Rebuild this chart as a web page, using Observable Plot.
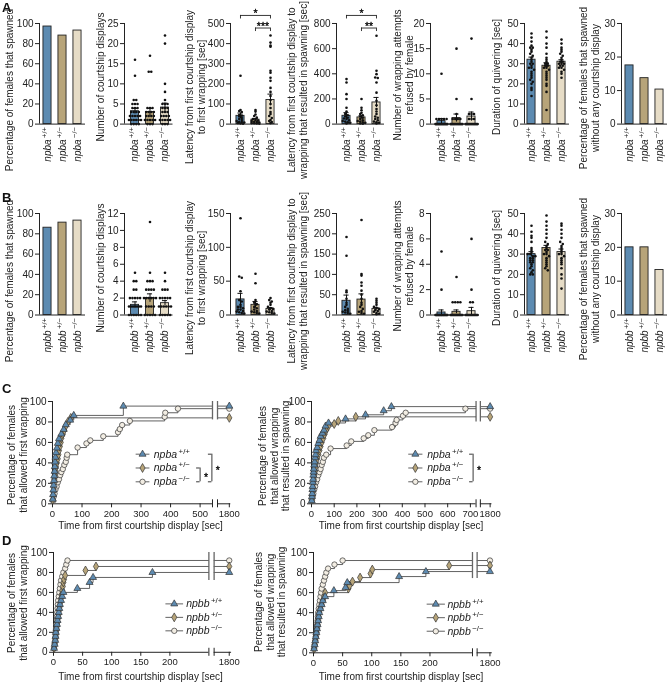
<!DOCTYPE html>
<html><head><meta charset="utf-8">
<script src="https://cdn.jsdelivr.net/npm/d3@7"></script>
<script src="https://cdn.jsdelivr.net/npm/@observablehq/plot@0.6"></script>
<style>
body{margin:0;background:#fff;font-family:"Liberation Sans",Arial,sans-serif;color:#222;}
#fig{position:relative;width:668px;height:683px;overflow:hidden;background:#fff;}
#fig svg{will-change:transform;}
.vl{position:absolute;transform:translate(-50%,-50%) rotate(-90deg);white-space:pre;text-align:center;font-size:10px;line-height:11.5px;color:#222;}
.hl{position:absolute;transform:translate(-50%,-50%);white-space:nowrap;font-size:10px;color:#222;}
.letter{position:absolute;font-weight:bold;font-size:13px;line-height:13px;color:#111;}
</style></head>
<body><div id="fig"></div>
<script>
// ---------- data ----------
const genotypes = ["+/+", "+/\u2212", "\u2212/\u2212"];
const geneA = "npba", geneB = "npbb";
const colors = ["#5d8bb1", "#b7a479", "#e6dcc6"];
const markerFill = ["#5d8bb1", "#b7a479", "#f2ede3"];

// Panel A
const a1Pct = [97, 88, 93];
const a2Mean = [3.2, 3.0, 4.1], a2Sem = [0.7, 0.9, 1.1];
const a2Wt = [16,12,6,6,5,5,5,4,4,4,3,3,3,3,2,2,2,2,2,1,1,1,1,1,1,0,0,0,0];
const a2Het = [17,13,13,4,4,4,3,3,3,3,2,2,2,2,1,1,1,1,1,0,0,0];
const a2Ko = [22,20,10,8,6,5,5,5,4,4,4,3,3,3,2,2,2,2,1,1,1,1,1,0,0,0];
const a3Mean = [41, 22, 120], a3Sem = [14, 6, 29];
const a3Wt = [240,70,65,60,45,42,38,30,25,20,15,12,10,8,5,3,2];
const a3Het = [70,62,48,40,32,25,20,18,15,12,10,8,5,4,3,2];
const a3Ko = [440,405,390,385,265,255,230,215,180,160,140,120,100,80,60,50,40,30,20,15,10,5];
const a4Mean = [66, 53, 172], a4Sem = [25, 13, 40];
const a4Wt = [358,331,238,200,130,100,80,70,60,50,45,40,30,25,20,15,10,5];
const a4Het = [200,130,110,90,80,70,60,50,40,30,25,20,15,10,5,3];
const a4Ko = [702,424,397,371,366,331,250,185,150,120,100,80,60,50,40,30,20,15,10,5];
const a5Mean = [0.6, 1.2, 1.5], a5Sem = [0.5, 0.8, 0.9];
const a5Wt = [10,1,1,1,1,1,0,0,0,0,0,0,0,0,0,0,0,0,0,0];
const a5Het = [15,5,2,1,1,1,1,0,0,0,0,0,0,0,0,0,0,0,0];
const a5Ko = [17,5,2,2,2,1,1,1,0,0,0,0,0,0,0,0,0,0,0,0];
const a6Mean = [32, 29, 31], a6Sem = [1.3, 1.5, 1.0];
const a6Wt = [45,43,41,39,38,38,37,36,35,34,33,32,31,30,30,29,28,28,27,26,25,24,23,22,21,20,18,17,14];
const a6Het = [46,43,40,38,35,33,32,31,30,30,29,29,28,28,27,26,25,24,23,22,20,19,16,7];
const a6Ko = [42,40,38,37,36,35,34,33,32,31,31,30,30,30,29,29,28,28,27,26,25,23];
const a7Pct = [17.5, 13.7, 10.3];
const a3Sig = [{from:0, to:2, label:"*", level:1}, {from:1, to:2, label:"***", level:0}];
const a4Sig = [{from:0, to:2, label:"*", level:1}, {from:1, to:2, label:"**", level:0}];

// Panel B
const b1Pct = [86, 91, 93];
const b2Mean = [1.2, 2.0, 1.4], b2Sem = [0.35, 0.5, 0.3];
const b2Wt = [5,4,4,3,3,2,2,2,2,2,1,1,1,1,1,1,1,0,0,0,0,0,0];
const b2Het = [11,5,4,4,4,3,3,3,3,2,2,2,2,2,2,1,1,1,1,0,0,0,0,0];
const b2Ko = [5,4,3,3,3,2,2,2,2,2,1,1,1,1,1,1,0,0,0,0,0];
const b3Mean = [23, 15, 9], b3Sem = [9, 5, 2];
const b3Wt = [143,57,55,35,22,20,15,12,12,10,8,8,6,5,4,3,2];
const b3Het = [61,47,22,18,16,15,12,10,8,6,5,4,3,2];
const b3Ko = [25,22,20,18,15,12,10,9,8,6,5,4,3,2];
const b4Mean = [35, 38, 15], b4Sem = [14, 14, 3];
const b4Wt = [192,146,60,56,40,30,25,20,15,12,10,8,6,5,3];
const b4Het = [234,101,97,80,72,60,50,40,30,25,20,15,10,8,5,3];
const b4Ko = [40,35,30,25,20,18,15,12,10,8,5,3,2];
const b5Mean = [0.2, 0.25, 0.3], b5Sem = [0.2, 0.15, 0.3];
const b5Wt = [5,2,0,0,0,0,0,0,0,0,0,0,0,0,0,0,0,0,0,0];
const b5Het = [3,1,1,1,1,0,0,0,0,0,0,0,0,0,0,0,0,0,0,0];
const b5Ko = [6,2,1,1,0,0,0,0,0,0,0,0,0,0,0,0,0];
const b6Mean = [30, 33, 31], b6Sem = [1.2, 1.3, 1.5];
const b6Wt = [44,41,39,38,36,33,32,31,30,30,29,29,28,28,27,27,26,26,25,24,23,22,21,20,20];
const b6Het = [49,46,44,42,40,38,36,35,34,33,32,32,31,30,30,29,28,27,26,25,24,23,22];
const b6Ko = [45,44,42,40,38,36,35,34,33,32,31,30,30,29,28,27,26,25,23,20,18,13];
const b7Pct = [20, 20, 13.3];

// Tick labels
const ticksPct100 = [0,20,40,60,80,100];
const ticksA2 = [0,5,10,15,20,25];
const ticksA3 = [0,100,200,300,400,500];
const ticksA4 = [0,200,400,600,800];
const ticksA5 = [0,5,10,15,20];
const ticksQuiv = [0,10,20,30,40,50];
const ticksPct30 = [0,10,20,30];
const ticksB2 = [0,2,4,6,8,10,12];
const ticksB3 = [0,50,100,150];
const ticksB4 = [0,50,100,150,200,250];
const ticksB5 = [0,2,4,6,8];

// Panel C / D cumulative curves: [time (s), cumulative %]
const cLWt = [[1,4.5],[2,9],[3,13.6],[4,18.2],[5,22.7],[6,27.3],[7,31.8],[8,36.4],[9,40.9],[10,45.5],[12,50],[15,54.5],[18,59.1],[22,63.6],[30,68.2],[38,72.7],[45,77.3],[60,81.8],[72,86.4],[240,95.5]];
const cLHet = [[1,4],[2,8],[3,12],[4,16],[5,20],[6,24],[8,28],[10,32],[12,36],[15,40],[18,44],[20,48],[22,52],[25,56],[28,60],[30,64],[35,68],[40,72],[45,76],[52,80],[62,84]];
const cLKo = [[2,3],[4,7],[7,10],[10,14],[14,17],[18,21],[22,24],[26,28],[30,31],[35,34],[40,38],[45,41],[48,45],[50,48],[85,55],[115,59],[128,62],[172,66],[222,70],[228,73],[236,77],[262,81],[380,85],[382,89],[425,93]];
const cRWt = [[1,3],[2,7],[3,10],[4,14],[5,17],[6,21],[7,24],[8,28],[9,31],[10,34],[12,38],[14,41],[16,45],[18,48],[20,52],[25,55],[30,59],[35,62],[40,66],[48,69],[55,72],[62,76],[75,79],[150,83],[238,87],[318,91],[352,95]];
const cRHet = [[1,4],[2,8],[4,12],[6,16],[8,20],[10,24],[12,28],[15,32],[18,36],[20,40],[25,44],[30,48],[35,52],[40,56],[45,60],[52,64],[58,68],[65,72],[75,76],[100,78],[118,81],[195,85]];
const cRKo = [[2,3],[5,7],[8,10],[12,14],[16,17],[20,21],[25,24],[30,28],[35,31],[40,34],[45,38],[50,41],[55,45],[65,48],[84,54],[155,57],[175,61],[230,64],[250,67],[277,72],[355,75],[370,79],[375,82],[403,86],[415,89],[678,93]];
const dLWt = [[1,4],[2,8],[3,12],[3.5,16],[4,20],[5,24],[6,28],[7,32],[8,36],[9,40],[10,44],[11,48],[13,52],[15,56],[17,60],[41,64],[62,70],[68,75],[170,80]];
const dLHet = [[1,4],[2,9],[3,14],[4,18],[5,22],[6,26],[7,30],[8,34],[9,38],[10,42],[11,46],[12,50],[13,54],[14,58],[15,62],[16,66],[17,70],[18,73],[20,77],[55,82],[73,86]];
const dLKo = [[1,4],[2,8],[3,12],[3.5,16],[4,20],[4.5,24],[5,28],[5.5,32],[6,36],[6.5,40],[7,44],[7.5,48],[8,52],[9,56],[10,60],[11,64],[12,68],[13,72],[15,76],[17,80],[20,84],[22,88],[24,92]];
const dRWt = [[1,4],[2,8],[3,12],[4,16],[5,20],[6,24],[7,28],[8,32],[9,36],[10,40],[12,44],[14,48],[16,52],[20,56],[35,62],[55,65],[58,70],[147,76],[193,81]];
const dRHet = [[1,4],[2,8],[3,12],[4,16],[5,20],[6,24],[7,28],[8,32],[9,36],[10,40],[12,44],[14,48],[16,52],[18,56],[20,60],[60,64],[62,67],[67,71],[80,75],[98,79],[101,83],[233,87]];
const dRKo = [[1,4],[2,8],[3,12],[4,16],[5,20],[6,24],[6.5,28],[7,32],[7.5,36],[8,40],[9,44],[10,48],[11,52],[12,56],[13,60],[14,64],[16,68],[18,72],[20,76],[22,80],[25,84],[36,88],[50,92]];
const ticksCL = [0,100,200,300,400,500];
const ticksCR = [0,100,200,300,400,500,600,700];
const ticksD = [0,50,100,150,200];
const ticksSurvY = [0,20,40,60,80,100];
const lastTimeLabel = "1800";

// ---------- helpers ----------
const FONT = '"Liberation Sans", Arial, sans-serif';
const fig = document.getElementById("fig");
const NS = "http://www.w3.org/2000/svg";

function supify(svg) {
  svg.querySelectorAll("text").forEach(t => {
    const s = t.textContent;
    if (!s.includes("|")) return;
    const [a, b] = s.split("|");
    while (t.firstChild) t.removeChild(t.firstChild);
    const t1 = document.createElementNS(NS, "tspan");
    t1.setAttribute("font-style", "italic"); t1.textContent = a;
    const t2 = document.createElementNS(NS, "tspan");
    t2.setAttribute("font-size", "0.75em"); t2.setAttribute("dy", "-0.5em"); t2.setAttribute("dx", "1.5");
    t2.textContent = b;
    t.append(t1, t2);
  });
}
function place(svg, left, top) {
  Object.assign(svg.style, {position:"absolute", left:left+"px", top:top+"px", background:"transparent", overflow:"visible", maxWidth:"none"});
  supify(svg);
  fig.appendChild(svg);
}
function vlabel(text, cx, cy) {
  const d = document.createElement("div"); d.className = "vl"; d.textContent = text;
  d.style.left = cx + "px"; d.style.top = cy + "px"; fig.appendChild(d);
}
function hlabel(text, cx, cy) {
  const d = document.createElement("div"); d.className = "hl"; d.textContent = text;
  d.style.left = cx + "px"; d.style.top = cy + "px"; fig.appendChild(d);
}
function letter(text, x, y) {
  const d = document.createElement("div"); d.className = "letter"; d.textContent = text;
  d.style.left = x + "px"; d.style.top = y + "px"; fig.appendChild(d);
}
// horizontal spreading of equal values (scatter dot plot layout)
function spread(vals, yMax, hPx) {
  const pxPer = hPx / yMax, bins = new Map(), out = [];
  vals.forEach(v => { const k = Math.round(v * pxPer / 2.4); if (!bins.has(k)) bins.set(k, []); bins.get(k).push(v); });
  for (const arr of bins.values()) {
    const n = arr.length, step = n > 1 ? Math.min(0.17, 0.8 / (n - 1)) : 0;
    arr.forEach((v, j) => out.push({v, off: (j - (n - 1) / 2) * step}));
  }
  return out;
}

const SP = 15; // px between groups
function barPanel(c) {
  const mL = 34, mR = 6, mT = 26, mB = 56;
  const innerW = c.c0 + 38 - c.ax, innerH = c.bottom - c.top;
  const x0 = (c.ax - c.c0) / SP, x1 = 38 / SP;
  const idx = [0, 1, 2];
  const marks = [
    Plot.rectY(idx, {x1: i => i - 0.27, x2: i => i + 0.27, y1: 0, y2: i => c.values[i], fill: i => colors[i], stroke: "#222", strokeWidth: 0.9})
  ];
  if (c.sems) {
    marks.push(Plot.ruleX(idx, {x: i => i, y1: i => Math.max(0, c.values[i] - c.sems[i]), y2: i => c.values[i] + c.sems[i], stroke: "#111", strokeWidth: 1}));
    marks.push(Plot.ruleY(idx.map(i => ({i, v: c.values[i] + c.sems[i]})), {y: "v", x1: d => d.i - 0.17, x2: d => d.i + 0.17, stroke: "#111", strokeWidth: 1}));
  }
  if (c.pts) {
    const dots = [];
    c.pts.forEach((arr, i) => spread(arr, c.yMax, innerH).forEach(d => dots.push({x: i + d.off, y: d.v})));
    marks.push(Plot.dot(dots, {x: "x", y: "y", r: 1.3, fill: "#111"}));
  }
  marks.push(Plot.ruleY([0], {stroke: "#222", strokeWidth: 1}));
  marks.push(Plot.ruleX([x0], {stroke: "#222", strokeWidth: 1}));
  marks.push(Plot.axisY({ticks: c.yTicks, tickSize: 4, tickPadding: 2, label: null, fontSize: 10}));
  marks.push(Plot.axisX({ticks: idx, tickSize: 0, tickPadding: 3, tickRotate: -90, tickFormat: i => c.gene + "|" + genotypes[i], label: null, fontSize: 10}));
  if (c.sig) for (const s of c.sig) {
    const v = c.yMax * (0.955 + 0.125 * s.level), drop = c.yMax * 0.035;
    marks.push(Plot.ruleY([v], {x1: s.from, x2: s.to, stroke: "#222", strokeWidth: 0.9}));
    marks.push(Plot.ruleX([s.from, s.to], {y1: v - drop, y2: v, stroke: "#222", strokeWidth: 0.9}));
    marks.push(Plot.text([s.label], {x: (s.from + s.to) / 2, y: v, text: d => d, lineAnchor: "middle", dy: -1.5, fontSize: 10.5, fill: "#000", stroke: "#000", strokeWidth: 0.3}));
  }
  const svg = Plot.plot({
    width: mL + innerW + mR, height: mT + innerH + mB,
    marginLeft: mL, marginRight: mR, marginTop: mT, marginBottom: mB,
    x: {domain: [x0, x1]}, y: {domain: [0, c.yMax]},
    style: {fontFamily: FONT, fontSize: "10px", color: "#222", background: "transparent", overflow: "visible"},
    marks
  });
  place(svg, c.ax - mL, c.top - mT);
}

const symbols = ["triangle", "diamond", "circle"];
const symR = [2.6, 2.7, 2.7];
function survPanel(c) {
  const mL = 40, mR = 12, mT = 8, mB = 26;
  const innerW = c.xEnd * c.ppu, innerH = c.bottom - c.top;
  const marks = [];
  const lineData = [];
  c.series.forEach((ev, g) => {
    const last = ev[ev.length - 1][1];
    lineData.push({t: 0, p: 0, k: g + "a"});
    ev.forEach(([t, p]) => lineData.push({t, p, k: g + "a"}));
    lineData.push({t: c.b1, p: last, k: g + "a"});
    lineData.push({t: c.b2, p: last, k: g + "b"}, {t: c.P, p: last, k: g + "b"});
  });
  marks.push(Plot.line(lineData, {x: "t", y: "p", z: "k", curve: "step-after", stroke: "#3a3a3a", strokeWidth: 0.8}));
  // break lines
  marks.push(Plot.ruleX([c.b1, c.b2], {y1: c.low, y2: 100, stroke: "#666", strokeWidth: 1.3}));
  // axes
  marks.push(Plot.ruleX([0], {stroke: "#222", strokeWidth: 1}));
  marks.push(Plot.ruleY([0], {x1: 0, x2: c.b1, stroke: "#222", strokeWidth: 1}));
  marks.push(Plot.ruleY([0], {x1: c.b2, x2: c.xEnd, stroke: "#222", strokeWidth: 1}));
  marks.push(Plot.ruleX([c.b1, c.b2], {y1: 0, y2: 0, insetTop: -4, insetBottom: -4, stroke: "#222", strokeWidth: 1}));
  marks.push(Plot.axisY({ticks: ticksSurvY, tickSize: 4, tickPadding: 2, label: null, fontSize: 10}));
  marks.push(Plot.axisX({ticks: [...c.ticks, c.P], tickSize: 4, tickPadding: 2, label: null, fontSize: 9.5, tickFormat: d => d === c.P ? lastTimeLabel : String(d)}));
  // markers (drawn -/- first, +/+ on top)
  [2, 1, 0].forEach(g => {
    const ev = c.series[g];
    const pts = ev.concat([[c.P, ev[ev.length - 1][1]]]);
    marks.push(Plot.dot(pts, {x: d => d[0], y: d => d[1], symbol: symbols[g], r: symR[g], fill: markerFill[g], stroke: "#333", strokeWidth: 0.7}));
  });
  // legend
  const L = c.legend, rows = [48.5, 35, 21.5];
  rows.forEach((py, g) => {
    marks.push(Plot.line([[L.x1, py], [L.x2, py]], {stroke: "#3a3a3a", strokeWidth: 0.8}));
    marks.push(Plot.dot([[(L.x1 + L.x2) / 2, py]], {symbol: symbols[g], r: symR[g], fill: markerFill[g], stroke: "#333", strokeWidth: 0.7}));
    marks.push(Plot.text([c.gene + "|" + genotypes[g]], {x: L.tx, y: py, text: d => d, textAnchor: "start", lineAnchor: "middle", fontSize: 10.5, fill: "#222"}));
  });
  // significance brackets
  (c.sig || []).forEach(s => {
    const y1 = rows[s.r1], y2 = rows[s.r2], stub = 3.5 / c.ppu;
    marks.push(Plot.ruleX([s.x], {y1: y2, y2: y1, stroke: "#222", strokeWidth: 0.9}));
    marks.push(Plot.ruleY([y1, y2], {x1: s.x - stub, x2: s.x, stroke: "#222", strokeWidth: 0.9}));
    marks.push(Plot.text(["*"], {x: s.x + 6 / c.ppu, y: (y1 + y2) / 2, text: d => d, lineAnchor: "middle", dy: 2.5, fontSize: 10.5, fill: "#000", stroke: "#000", strokeWidth: 0.3}));
  });
  const svg = Plot.plot({
    width: mL + innerW + mR, height: mT + innerH + mB,
    marginLeft: mL, marginRight: mR, marginTop: mT, marginBottom: mB,
    x: {domain: [0, c.xEnd]}, y: {domain: [0, 100]},
    style: {fontFamily: FONT, fontSize: "10px", color: "#222", background: "transparent", overflow: "visible"},
    marks
  });
  place(svg, c.left - mL, c.top - mT);
}

// ---------- layout ----------
const cols = [{ax: 38.5, c0: 46.5}, {ax: 123.5, c0: 134}, {ax: 229.5, c0: 239.5}, {ax: 336, c0: 346},
              {ax: 430, c0: 441}, {ax: 524, c0: 531}, {ax: 621, c0: 629}];
const rowA = {top: 22.7, bottom: 123.3}, rowB = {top: 212.8, bottom: 314.3};

const panelsA = [
  {values: a1Pct, yMax: 100, yTicks: ticksPct100},
  {values: a2Mean, sems: a2Sem, pts: [a2Wt, a2Het, a2Ko], yMax: 25, yTicks: ticksA2},
  {values: a3Mean, sems: a3Sem, pts: [a3Wt, a3Het, a3Ko], yMax: 500, yTicks: ticksA3, sig: a3Sig},
  {values: a4Mean, sems: a4Sem, pts: [a4Wt, a4Het, a4Ko], yMax: 800, yTicks: ticksA4, sig: a4Sig},
  {values: a5Mean, sems: a5Sem, pts: [a5Wt, a5Het, a5Ko], yMax: 20, yTicks: ticksA5},
  {values: a6Mean, sems: a6Sem, pts: [a6Wt, a6Het, a6Ko], yMax: 50, yTicks: ticksQuiv},
  {values: a7Pct, yMax: 30, yTicks: ticksPct30}
];
const panelsB = [
  {values: b1Pct, yMax: 100, yTicks: ticksPct100},
  {values: b2Mean, sems: b2Sem, pts: [b2Wt, b2Het, b2Ko], yMax: 12, yTicks: ticksB2},
  {values: b3Mean, sems: b3Sem, pts: [b3Wt, b3Het, b3Ko], yMax: 150, yTicks: ticksB3},
  {values: b4Mean, sems: b4Sem, pts: [b4Wt, b4Het, b4Ko], yMax: 250, yTicks: ticksB4},
  {values: b5Mean, sems: b5Sem, pts: [b5Wt, b5Het, b5Ko], yMax: 8, yTicks: ticksB5},
  {values: b6Mean, sems: b6Sem, pts: [b6Wt, b6Het, b6Ko], yMax: 50, yTicks: ticksQuiv},
  {values: b7Pct, yMax: 30, yTicks: ticksPct30}
];
panelsA.forEach((p, i) => barPanel({...p, ...cols[i], ...rowA, gene: geneA}));
panelsB.forEach((p, i) => barPanel({...p, ...cols[i], ...rowB, gene: geneB}));

const yLabels = [
  ["Percentage of females that spawned", 10, 90],
  ["Number of courtship displays", 101, 77],
  ["Latency from first courtship display\nto first wrapping [sec]", 195, 87],
  ["Latency from first courtship display to\nwrapping that resulted in spawning [sec]", 297, 90],
  ["Number of wrapping attempts\nrefused by female", 403, 75],
  ["Duration of quivering [sec]", 497, 77],
  ["Percentage of females that spawned\nwithout any courtship display", 589, 88]
];
yLabels.forEach(([t, x, y]) => { vlabel(t, x, y); vlabel(t, x, y + 190.5); });

survPanel({left: 51.7, top: 401, bottom: 503.3, ppu: 0.2952, xEnd: 604, b1: 542, b2: 559, P: 599, low: 82,
  ticks: ticksCL, gene: geneA, series: [cLWt, cLHet, cLKo],
  legend: {x1: 283, x2: 327, tx: 343}, sig: [{x: 500, r1: 1, r2: 2}, {x: 540, r1: 0, r2: 2}]});
survPanel({left: 311, top: 401, bottom: 503.3, ppu: 0.227, xEnd: 795, b1: 725, b2: 744, P: 787, low: 80,
  ticks: ticksCR, gene: geneA, series: [cRWt, cRHet, cRKo],
  legend: {x1: 428, x2: 487, tx: 510}, sig: [{x: 712, r1: 0, r2: 2}]});
survPanel({left: 52.6, top: 552.2, bottom: 652, ppu: 0.582, xEnd: 306, b1: 267, b2: 276, P: 302, low: 72,
  ticks: ticksD, gene: geneB, series: [dLWt, dLHet, dLKo],
  legend: {x1: 193, x2: 222, tx: 228}});
survPanel({left: 312.7, top: 552.2, bottom: 652.5, ppu: 0.5824, xEnd: 307, b1: 273, b2: 281, P: 303, low: 74,
  ticks: ticksD, gene: geneB, series: [dRWt, dRHet, dRKo],
  legend: {x1: 195, x2: 225, tx: 230}});

vlabel("Percentage of females\nthat allowed first wrapping", 16.5, 455);
vlabel("Percentage of females\nthat allowed wrapping\nthat resulted in spawning", 273.5, 456);
vlabel("Percentage of females\nthat allowed first wrapping", 16.5, 603);
vlabel("Percentage of females\nthat allowed wrapping\nthat resulted in spawning", 270, 602);
hlabel("Time from first courtship display [sec]", 140.5, 525);
hlabel("Time from first courtship display [sec]", 401, 525);
hlabel("Time from first courtship display [sec]", 140.5, 675.5);
hlabel("Time from first courtship display [sec]", 401, 675.5);

letter("A", 2, 1); letter("B", 2, 191); letter("C", 2, 382); letter("D", 2, 534);
</script></body></html>
